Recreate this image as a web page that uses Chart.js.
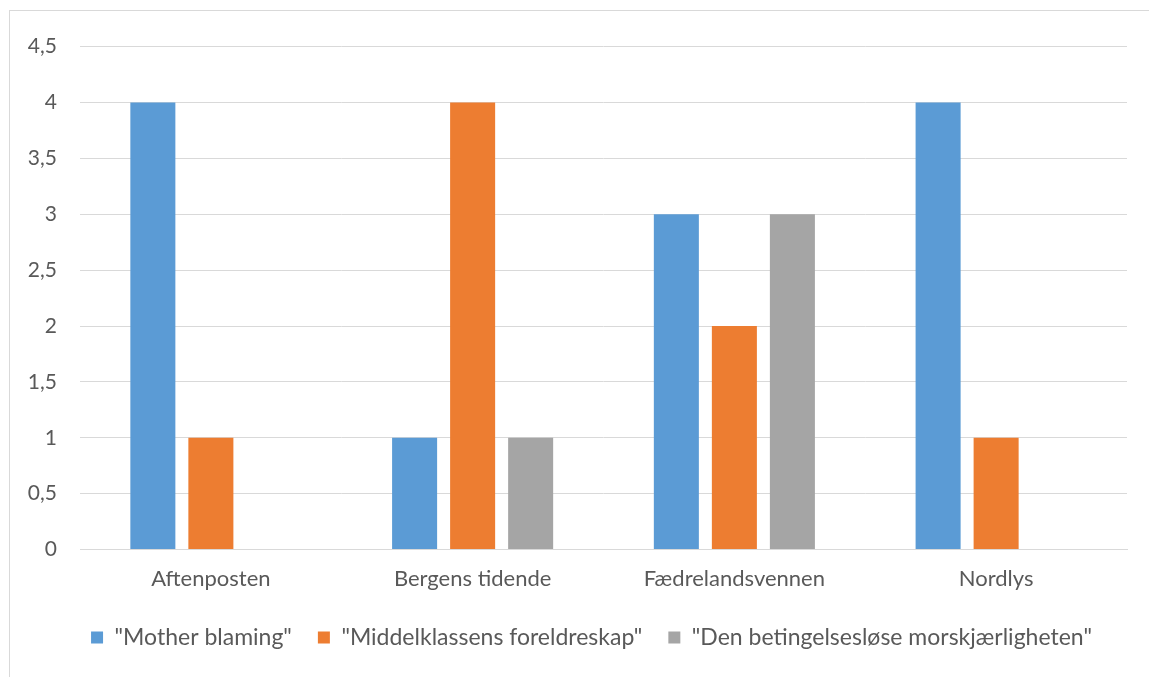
<!DOCTYPE html>
<html>
<head>
<meta charset="utf-8">
<script src="https://cdn.jsdelivr.net/npm/chart.js@4.4.1/dist/chart.umd.min.js"></script>
<style>
  body { margin: 0; background: #fff; overflow: hidden; }
  #frame { position: absolute; left: 9px; top: 10px; width: 1200px; height: 700px; border: 1px solid #d9d9d9; }
  #wrap { position: absolute; left: 0; top: 0; width: 1139px; height: 666px; }
</style>
</head>
<body>
<div id="frame"><div id="wrap"><canvas id="myChart"></canvas></div></div>
<script>
const papers = ['Aftenposten', 'Bergens tidende', 'Fædrelandsvennen', 'Nordlys'];
const motherBlaming = [4, 1, 3, 4];
const middelklassen = [1, 4, 2, 1];
const betingelseslos = [0, 1, 3, 0];

const fontFam = 'Lato, "Open Sans", sans-serif';
const textCol = '#595959';

// legend sits a bit right of centre in the original
const shiftLegend = {
    id: 'shiftLegend',
    afterLayout(chart) { chart.legend.left += 46; }
};

//config block
const config = {
    type: 'bar',
    data: {
        labels: papers,
        datasets: [
            { label: '"Mother blaming"', data: motherBlaming, backgroundColor: '#5B9BD5' },
            { label: '"Middelklassens foreldreskap"', data: middelklassen, backgroundColor: '#ED7D31' },
            { label: '"Den betingelsesløse morskjærligheten"', data: betingelseslos, backgroundColor: '#A5A5A5' }
        ]
    },
    options: {
        responsive: true,
        maintainAspectRatio: false,
        animation: false,
        categoryPercentage: 0.665,
        barPercentage: 0.776,
        layout: { padding: { top: 26, right: 22, left: 0, bottom: 18 } },
        plugins: {
            tooltip: { enabled: false },
            legend: {
                position: 'bottom',
                labels: {
                    boxWidth: 12, boxHeight: 12, padding: 26,
                    color: textCol,
                    font: { family: fontFam, size: 23 }
                }
            }
        },
        scales: {
            x: {
                grid: { display: false },
                border: { color: '#d9d9d9' },
                ticks: { color: textCol, padding: 8, font: { family: fontFam, size: 22 } }
            },
            y: {
                min: 0, max: 4.5,
                afterFit: (s) => { s.width = 70; },
                grid: { color: '#d9d9d9', drawTicks: false },
                border: { display: false },
                ticks: {
                    stepSize: 0.5, padding: 23, color: textCol,
                    font: { family: fontFam, size: 21 },
                    callback: (v) => String(v).replace('.', ',')
                }
            }
        }
    },
    plugins: [shiftLegend]
};

//render block
const myChart = new Chart(document.getElementById('myChart'), config);
</script>
</body>
</html>
